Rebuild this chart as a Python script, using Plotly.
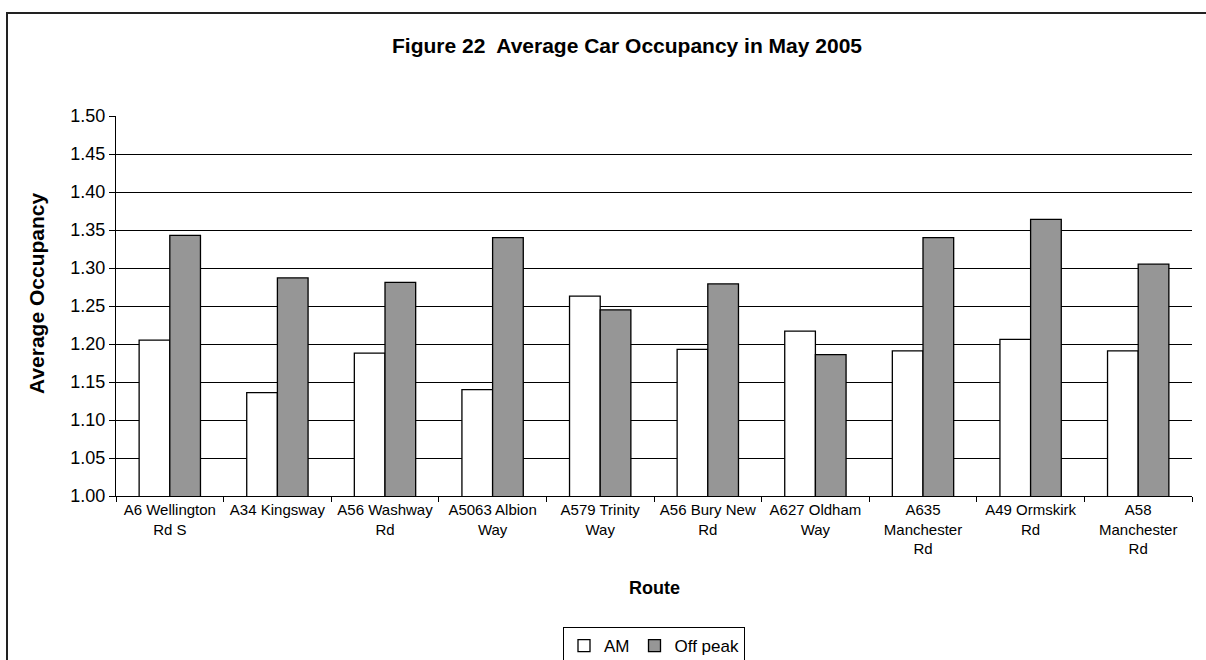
import plotly.graph_objects as go

# Route labels (wrapped as they appear under the axis)
routes = [
    "A6 Wellington<br>Rd S",
    "A34 Kingsway",
    "A56 Washway<br>Rd",
    "A5063 Albion<br>Way",
    "A579 Trinity<br>Way",
    "A56 Bury New<br>Rd",
    "A627 Oldham<br>Way",
    "A635<br>Manchester<br>Rd",
    "A49 Ormskirk<br>Rd",
    "A58<br>Manchester<br>Rd",
]

# Average occupancy per route
am_values = [1.205, 1.136, 1.188, 1.140, 1.263, 1.193, 1.217, 1.191, 1.206, 1.191]
offpeak_values = [1.343, 1.287, 1.281, 1.340, 1.245, 1.279, 1.186, 1.340, 1.364, 1.305]

y_ticks = [1.00, 1.05, 1.10, 1.15, 1.20, 1.25, 1.30, 1.35, 1.40, 1.45, 1.50]

FONT = "Arial, Liberation Sans, sans-serif"

W, H = 1206, 660
ML, MR, MT, MB = 116, 14, 116, 164
plot_w = W - ML - MR
plot_h = H - MT - MB


def px_x(px):
    return (px - ML) / plot_w


def px_y(py):
    return (H - MB - py) / plot_h


fig = go.Figure()
fig.add_trace(go.Bar(
    name="AM", x=routes, y=am_values,
    marker=dict(color="#ffffff", line=dict(color="#000000", width=1.3)),
))
fig.add_trace(go.Bar(
    name="Off peak", x=routes, y=offpeak_values,
    marker=dict(color="#969696", line=dict(color="#000000", width=1.3)),
))

fig.update_layout(
    width=W, height=H,
    margin=dict(l=ML, r=MR, t=MT, b=MB, autoexpand=False),
    paper_bgcolor="#ffffff", plot_bgcolor="#ffffff",
    barmode="group", bargap=0.43, bargroupgap=0,
    font=dict(family=FONT, color="#000000"),
    title=dict(
        text="<b>Figure 22  Average Car Occupancy in May 2005</b>",
        x=627 / W, xanchor="center", xref="container",
        y=1 - 46 / H, yanchor="middle", yref="container",
        font=dict(family=FONT, size=21, color="#000000"),
    ),
    showlegend=True,
    legend=dict(
        orientation="h", x=0.5, xanchor="center",
        y=px_y(627), yanchor="top",
        bordercolor="#000000", borderwidth=1, bgcolor="#ffffff",
        font=dict(family=FONT, size=17, color="#000000"),
        itemwidth=30, traceorder="normal",
    ),
    xaxis=dict(
        type="category", showgrid=False,
        showline=True, linecolor="#000000", linewidth=1.3,
        ticks="outside", tickson="boundaries", ticklen=5,
        tickcolor="#000000", tickwidth=1.3,
        tickfont=dict(family=FONT, size=15, color="#000000"),
        tickangle=0,
    ),
    yaxis=dict(
        range=[1.0, 1.5], tickvals=y_ticks, tickformat=".2f",
        showgrid=True, gridcolor="#000000", gridwidth=1.1,
        showline=True, linecolor="#000000", linewidth=1.3,
        ticks="outside", ticklen=6, tickcolor="#000000", tickwidth=1.3,
        tickfont=dict(family=FONT, size=18, color="#000000"),
        zeroline=False,
    ),
    annotations=[
        dict(text="<b>Average Occupancy</b>", textangle=-90,
             x=px_x(36), y=px_y(294), xref="paper", yref="paper",
             xanchor="center", yanchor="middle", showarrow=False,
             font=dict(family=FONT, size=21, color="#000000")),
        dict(text="<b>Route</b>",
             x=0.5, y=px_y(588), xref="paper", yref="paper",
             xanchor="center", yanchor="middle", showarrow=False,
             font=dict(family=FONT, size=18, color="#000000")),
    ],
    shapes=[
        # chart-area frame (runs off the right and bottom edges)
        dict(type="rect", xref="paper", yref="paper",
             x0=px_x(7), x1=px_x(1230), y0=px_y(700), y1=px_y(13),
             line=dict(color="#222222", width=2), fillcolor="rgba(0,0,0,0)",
             layer="below"),
    ],
)

fig.write_html("out.html")
